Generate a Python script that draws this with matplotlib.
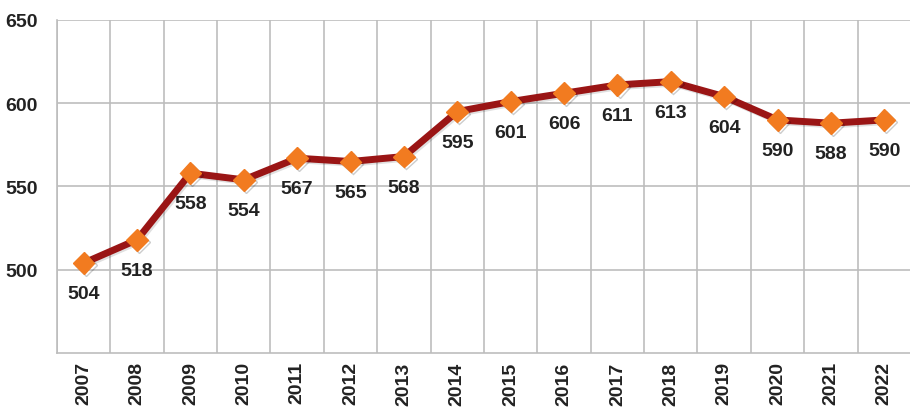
import matplotlib
matplotlib.use("Agg")
import matplotlib.pyplot as plt
import matplotlib.patheffects as pe
import numpy as np

years = ["2007", "2008", "2009", "2010", "2011", "2012", "2013", "2014",
         "2015", "2016", "2017", "2018", "2019", "2020", "2021", "2022"]
values = [504, 518, 558, 554, 567, 565, 568, 595, 601, 606, 611, 613, 604, 590, 588, 590]
yticks = [500, 550, 600, 650]

plt.rcParams['font.family'] = ['Liberation Sans', 'DejaVu Sans']

fig = plt.figure(figsize=(9.1, 4.1), dpi=100)
ax = fig.add_axes([0.0626, 0.1366, 0.9385, 0.8122])

x = np.arange(len(years))
grid_c = "#BDBDBD"

ax.set_xlim(-0.5, len(years) - 0.5)
ax.set_ylim(450, 650)
ax.set_yticks(yticks)
ax.set_yticklabels([str(v) for v in yticks])
ax.set_xticks(x)
ax.set_xticklabels(years, rotation=90)
ax.set_xticks(np.arange(len(years) + 1) - 0.5, minor=True)
ax.grid(True, which='minor', axis='x', color=grid_c, lw=1.2)
ax.grid(True, which='major', axis='y', color=grid_c, lw=1.2)
ax.tick_params(axis='both', which='both', length=0)
ax.tick_params(axis='y', pad=14, labelsize=14, labelcolor='#222222')
ax.tick_params(axis='x', pad=6, labelsize=14, labelcolor='#222222')
for lab in ax.get_xticklabels() + ax.get_yticklabels():
    lab.set_fontweight('bold')
for s in ['top', 'right']:
    ax.spines[s].set_visible(False)
for s in ['left', 'bottom']:
    ax.spines[s].set_color(grid_c)
    ax.spines[s].set_linewidth(1.2)

ax.plot(x, values, color='#9A1515', lw=5, zorder=3, solid_joinstyle='round',
        path_effects=[pe.SimpleLineShadow(offset=(1.2, -1.2), shadow_color='black', alpha=0.12), pe.Normal()])
ax.plot(x, values, linestyle='none', marker='D', markersize=11, color='#F27B20',
        markeredgecolor='#F27B20', zorder=4, clip_on=False,
        path_effects=[pe.SimpleLineShadow(offset=(1.5, -1.5), shadow_color='black', alpha=0.2), pe.Normal()])

for xi, v in zip(x, values):
    ax.annotate(str(v), (xi, v), xytext=(0, -22), textcoords='offset points',
                ha='center', va='center', fontsize=14, fontweight='bold',
                color='#222222', zorder=5)

fig.savefig("out.png", dpi=100)
